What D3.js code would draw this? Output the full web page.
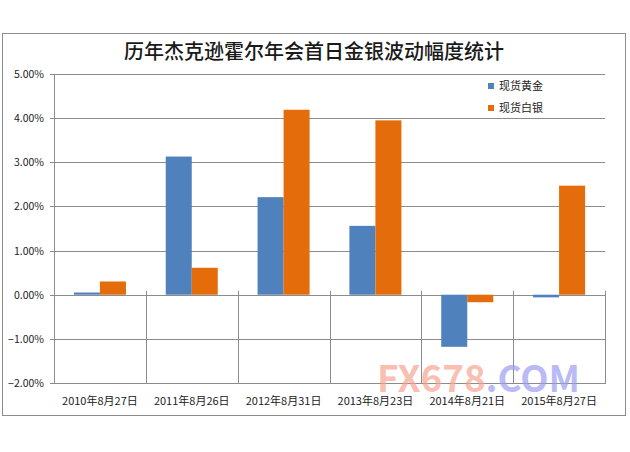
<!DOCTYPE html>
<html>
<head>
<meta charset="utf-8">
<script src="https://cdn.jsdelivr.net/npm/d3@7"></script>
<style>
  body { margin: 0; background: #fff; }
  text { font-family: "Noto Sans CJK SC", "Liberation Sans", sans-serif; }
</style>
</head>
<body>
<script>
// data (percent)
const categories = ["2010年8月27日", "2011年8月26日", "2012年8月31日", "2013年8月23日", "2014年8月21日", "2015年8月27日"];
const seriesNames = ["现货黄金", "现货白银"];
const gold = [0.05, 3.13, 2.21, 1.56, -1.18, -0.06];
const silver = [0.30, 0.61, 4.19, 3.95, -0.17, 2.47];
const yTicks = [-2, -1, 0, 1, 2, 3, 4, 5];
const colors = ["#4f81bd", "#e46c0a"];

let width = 630, height = 452;

let svg = d3.select("body").append("svg")
  .attr("width", width).attr("height", height);

// outer chart border
svg.append("rect")
  .attr("x", 2.5).attr("y", 33.5)
  .attr("width", 623).attr("height", 382)
  .attr("fill", "white")
  .attr("stroke", "#8c8c8c");

svg.append("text")
  .attr("x", 314).attr("y", 59)
  .attr("text-anchor", "middle")
  .attr("font-size", 20)
  .attr("font-weight", 500)
  .attr("fill", "#1a1a1a")
  .text("历年杰克逊霍尔年会首日金银波动幅度统计");

let plotL = 54, plotR = 605, plotT = 74, plotB = 383;

var x = d3.scaleBand().domain(categories).range([plotL, plotR]);
var xs = d3.scaleBand().domain(seriesNames).range([0, x.bandwidth()]).paddingOuter(0.765);
var y = d3.scaleLinear().domain([-2, 5]).range([plotB, plotT]);

// horizontal gridlines
svg.append("g").selectAll("line")
  .data(yTicks)
  .join("line")
  .attr("x1", plotL - 4).attr("x2", plotR)
  .attr("y1", d => Math.round(y(d)) + 0.5)
  .attr("y2", d => Math.round(y(d)) + 0.5)
  .attr("stroke", "#8c8c8c");

// y axis line
svg.append("line")
  .attr("x1", plotL + 0.5).attr("x2", plotL + 0.5)
  .attr("y1", plotT).attr("y2", plotB + 1)
  .attr("stroke", "#8c8c8c");

// y tick labels
svg.append("g").selectAll("text")
  .data(yTicks)
  .join("text")
  .attr("x", 44).attr("y", d => y(d) + 4)
  .attr("text-anchor", "end")
  .attr("font-size", 10.5)
  .attr("font-family", "Liberation Sans, sans-serif")
  .attr("fill", "#222")
  .text(d => d3.format(".2f")(d) + "%");

// category separators below the zero line
svg.append("g").selectAll("line")
  .data(categories)
  .join("line")
  .attr("x1", d => Math.round(x(d) + x.bandwidth()) + 0.5)
  .attr("x2", d => Math.round(x(d) + x.bandwidth()) + 0.5)
  .attr("y1", y(0) - 4).attr("y2", plotB + 1)
  .attr("stroke", "#8c8c8c");

// bars
let rows = categories.map((c, i) => ({ cat: c, vals: [gold[i], silver[i]] }));
svg.append("g").selectAll("g")
  .data(rows)
  .join("g")
  .attr("transform", d => `translate(${x(d.cat)},0)`)
  .selectAll("rect")
  .data(d => d.vals.map((v, j) => ({ name: seriesNames[j], v: v, j: j })))
  .join("rect")
  .attr("x", d => xs(d.name))
  .attr("width", xs.bandwidth())
  .attr("y", d => y(Math.max(0, d.v)))
  .attr("height", d => Math.abs(y(d.v) - y(0)))
  .attr("fill", d => colors[d.j]);

// category labels
svg.append("g").selectAll("text")
  .data(categories)
  .join("text")
  .attr("x", d => x(d) + x.bandwidth() / 2)
  .attr("y", 405)
  .attr("text-anchor", "middle")
  .attr("font-size", 11)
  .attr("fill", "#222")
  .text(d => d);

// legend
let legend = svg.append("g").selectAll("g")
  .data(seriesNames)
  .join("g")
  .attr("transform", (d, i) => `translate(488,${86 + i * 22})`);
legend.append("rect")
  .attr("x", 0).attr("y", -3).attr("width", 6).attr("height", 6)
  .attr("fill", (d, i) => colors[i]);
legend.append("text")
  .attr("x", 11).attr("y", 4)
  .attr("font-size", 11)
  .attr("fill", "#222")
  .text(d => d);

// watermark
let wm = svg.append("text")
  .attr("x", 377).attr("y", 392)
  .attr("font-size", 37)
  .attr("font-weight", "bold")
  .attr("textLength", 203)
  .attr("lengthAdjust", "spacingAndGlyphs")
  .attr("font-family", "Liberation Sans, sans-serif");
wm.append("tspan").attr("fill", "#f7a38f").attr("fill-opacity", 0.7).text("FX678");
wm.append("tspan").attr("fill", "#9c9cf2").attr("fill-opacity", 0.7).text(".COM");
</script>
</body>
</html>
